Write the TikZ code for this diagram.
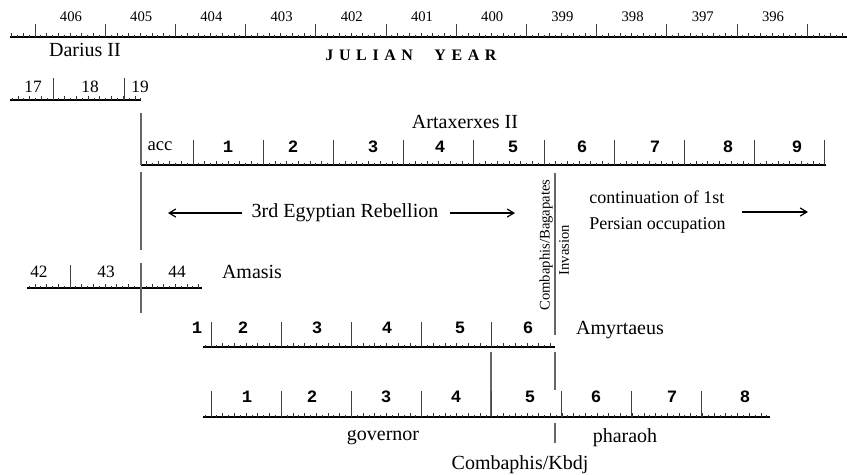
\documentclass[tikz,border=0pt]{standalone}
\usepackage{fontspec}
\setmainfont{Liberation Serif}
\newfontfamily\monofont{Liberation Mono}
\usetikzlibrary{arrows.meta}

\newcommand{\monthw}{5.85}
\newcommand{\ltr}{\hspace{4.2pt}}
% #1 = y, #2 = x start, #3 = x end, #4 = x of one year tick
\newcommand{\ruler}[4]{%
  \draw[rulerline] (#2,#1) -- (#3,#1);
  \pgfmathtruncatemacro{\kfirst}{ceil((#2-#4)/\monthw)}
  \pgfmathtruncatemacro{\klast}{floor((#3-#4)/\monthw)}
  \foreach \k in {\kfirst,...,\klast}{
    \pgfmathsetmacro{\tx}{#4+\k*\monthw}
    \pgfmathsetmacro{\th}{mod(\k+1200,2)==1 ? 2.5 : 4.5}
    \draw[monthtick] (\tx,#1) -- ++(0,-\th);
  }
}

\tikzset{
  rulerline/.style={line width=1.5pt},
  monthtick/.style={line width=0.55pt, black!80},
  yeartick/.style={line width=0.7pt, black!75},
  divider/.style={line width=0.9pt, black!60},
  yearlbl/.style={font=\fontsize{11}{13}\selectfont, inner sep=0pt},
  regnal/.style={font=\fontsize{13}{15}\selectfont, inner sep=0pt},
  monolbl/.style={font=\monofont\bfseries\fontsize{13}{15}\selectfont, inner sep=0pt},
  king/.style={font=\fontsize{15}{17}\selectfont, inner sep=0pt},
  vlbl/.style={font=\fontsize{11}{13}\selectfont, rotate=90, inner sep=0pt},
  span/.style={-{Straight Barb[length=5pt,width=6pt]}, line width=0.9pt}
}

\begin{document}
\begin{tikzpicture}[x=0.75pt, y=-0.75pt]
  \useasboundingbox (0,0) rectangle (847,475);

  % Julian years
  \ruler{37}{10}{847}{35}
  \foreach \x in {0,...,11}
    \draw[yeartick] ({35+70.2*\x},24) -- ({35+70.2*\x},37);
  \foreach \yr [count=\i from 0] in {406,405,...,396}
    \node (yr\yr) [yearlbl] at ({71+70.2*\i},17) {\yr};
  \node (julian) [font=\bfseries\fontsize{12}{14}\selectfont, inner sep=0pt] at (411,55)
    {J\ltr U\ltr L\ltr I\ltr A\ltr N\hspace{16pt}Y\ltr E\ltr A\ltr R};

  % Darius II
  \node (darius) [king] at (85,50) {Darius II};
  \ruler{100}{10}{141}{53}
  \foreach \x in {53,124}
    \draw[yeartick] (\x,78) -- (\x,100);
  \node (dar17) [regnal] at (33,87) {17};
  \node (dar18) [regnal] at (90,87) {18};
  \node (dar19) [regnal] at (140,87) {19};

  % Artaxerxes II
  \node (artax) [king] at (465,122) {Artaxerxes II};
  \ruler{165}{141}{826}{193}
  \foreach \x in {0,...,9}
    \draw[yeartick] ({193+70.2*\x},140) -- ({193+70.2*\x},165);
  \node (artacc) [king, font=\fontsize{14}{16}\selectfont] at (160,146) {acc};
  \foreach \x [count=\n] in {228,293,373,440,513,582,655,728,797}
    \node (art\n) [monolbl] at (\x,147) {\n};
  \draw[divider] (141,113) -- (141,165);
  \draw[divider] (141,172) -- (141,250);

  % Rebellion and occupation
  \node (rebel) [king] at (345,213) {3rd Egyptian Rebellion};
  \coordinate (rebelL1) at (242,213);
  \coordinate (rebelL2) at (168,213);
  \coordinate (rebelR1) at (450,213);
  \coordinate (rebelR2) at (515,213);
  \node (persian) [king, font=\fontsize{13.5}{19}\selectfont, align=left, anchor=west] at (589,212)
    {continuation of 1st\\Persian occupation};
  \coordinate (persian1) at (742,212);
  \coordinate (persian2) at (808,212);
  \draw[divider] (555,173) -- (555,335);
  \node (bagapates) [vlbl] at (546,245) {Combaphis/Bagapates};
  \node (invasion) [vlbl] at (564,250) {Invasion};

  % Amasis
  \node (amasis) [king] at (252,272) {Amasis};
  \ruler{288}{27}{202}{70}
  \draw[yeartick] (70,265) -- (70,288);
  \draw[divider] (141,263) -- (141,313);
  \node (ama42) [regnal] at (39,272) {42};
  \node (ama43) [regnal] at (106,272) {43};
  \node (ama44) [regnal] at (177,272) {44};

  % Amyrtaeus
  \node (amyrt) [king] at (620,330) {Amyrtaeus};
  \ruler{347}{203}{555}{211}
  \foreach \x in {211,281,351,421,491}
    \draw[yeartick] (\x,322) -- (\x,347);
  \foreach \x [count=\n] in {197,243,317,387,460,528}
    \node (amy\n) [monolbl] at (\x,328) {\n};
  \draw[divider] (491,352) -- (491,417);
  \draw[divider] (555,352) -- (555,390);

  % Combaphis
  \ruler{417}{203}{770}{211}
  \foreach \x in {0,...,7}
    \draw[yeartick] ({211+70*\x},391) -- ({211+70*\x},417);
  \foreach \x [count=\n] in {247,312,386,456,530,596,672,745}
    \node (kbd\n) [monolbl] at (\x,397) {\n};
  \draw[divider] (555,423) -- (555,443);
  \node (governor) [king] at (383,438) {governor};
  \node (pharaoh) [king] at (625,438) {pharaoh};
  \node (kbdj) [king] at (520,465) {Combaphis/Kbdj};

  % Arrows
  \draw[span] (rebelL1) -- (rebelL2);
  \draw[span] (rebelR1) -- (rebelR2);
  \draw[span] (persian1) -- (persian2);
\end{tikzpicture}
\end{document}
